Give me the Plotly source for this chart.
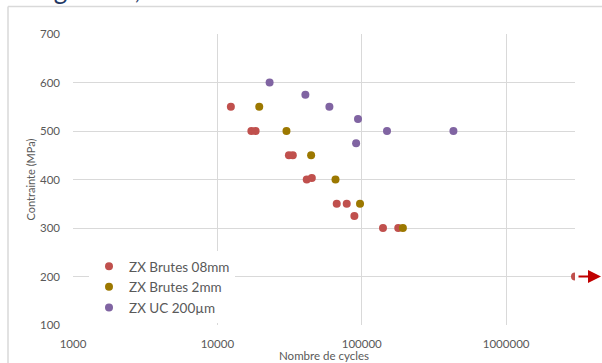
import plotly.graph_objects as go

# Data
red_name = "ZX Brutes 08mm"
red_cycles = [12400, 17200, 18400, 31300, 33300, 41600, 45100, 67100, 78700, 88900, 140300, 179000, 3000000]
red_stress = [550, 500, 500, 450, 450, 400, 403, 350, 350, 325, 300, 300, 200]

gold_name = "ZX Brutes 2mm"
gold_cycles = [19500, 30100, 44600, 65800, 97300, 192700]
gold_stress = [550, 500, 450, 400, 350, 300]

purple_name = "ZX UC 200µm"
purple_cycles = [23000, 40700, 59700, 94200, 91400, 149600, 431500]
purple_stress = [600, 575, 550, 525, 475, 500, 500]

x_ticks = [1000, 10000, 100000, 1000000]
x_max = 3000000
y_range = [100, 700]

W, H = 602, 363
L, R, T, B = 73, 27, 34, 38
pw, ph = W - L - R, H - T - B

FONT = "Lato"
GRAY = "#595959"
GRID = "#D9D9D9"

fig = go.Figure()
for name, xs, ys, col in [
    (red_name, red_cycles, red_stress, "#C0504D"),
    (gold_name, gold_cycles, gold_stress, "#9C7800"),
    (purple_name, purple_cycles, purple_stress, "#8064A2"),
]:
    fig.add_trace(go.Scatter(x=xs, y=ys, mode="markers", name=name,
                             marker=dict(color=col, size=8, line=dict(width=0))))

def px_x(p):
    return (p - L) / pw

def px_y(p):
    return (H - B - p) / ph

fig.update_layout(
    width=W, height=H,
    margin=dict(l=L, r=R, t=T, b=B, autoexpand=False),
    paper_bgcolor="white", plot_bgcolor="white",
    font=dict(family=FONT, color=GRAY, size=11.5),
    xaxis=dict(type="log", range=[3, 6.4771], tickvals=x_ticks,
               ticktext=[str(v) for v in x_ticks],
               showgrid=True, gridcolor=GRID, gridwidth=1,
               zeroline=False, showline=False, ticks="",
               ticklabelstandoff=10,
               tickfont=dict(size=11.5, color=GRAY),
               title=dict(text="Nombre de cycles", font=dict(size=11.5, color=GRAY), standoff=0)),
    yaxis=dict(range=y_range, dtick=100, showgrid=True, gridcolor=GRID, gridwidth=1,
               zeroline=False, showline=False, ticks="",
               ticklabelstandoff=12,
               tickfont=dict(size=11.5, color=GRAY),
               title=dict(text="Contrainte (MPa)", font=dict(size=11, color=GRAY), standoff=2)),
    legend=dict(x=px_x(89), y=px_y(251), xanchor="left", yanchor="top",
                bgcolor="white", borderwidth=0,
                font=dict(size=13.5, color=GRAY, family=FONT),
                tracegroupgap=0, itemwidth=30),
    showlegend=True,
)

# outer chart frame
fig.add_shape(type="line", xref="paper", yref="paper",
              x0=px_x(8), x1=px_x(W + 5), y0=px_y(6.5), y1=px_y(6.5),
              line=dict(color=GRID, width=1.5))
fig.add_shape(type="line", xref="paper", yref="paper",
              x0=px_x(8), x1=px_x(8), y0=px_y(6.5), y1=px_y(H + 5),
              line=dict(color=GRID, width=1.5))

# cut-off slide title
fig.add_annotation(text="Fatigue ZX,", xref="paper", yref="paper",
                   x=px_x(10), y=px_y(-11), xanchor="left", yanchor="middle",
                   showarrow=False, font=dict(size=26, color="#1F3864", family=FONT))

# run-out arrow
fig.add_annotation(x=px_x(601), y=200, xref="paper", yref="y",
                   ax=-24, ay=0, axref="pixel", ayref="pixel",
                   showarrow=True, arrowhead=2, arrowsize=1.3, arrowwidth=2,
                   arrowcolor="#C00000", text="")

fig.write_html("out.html", config={"displayModeBar": False},
               post_script="document.body.style.margin='0';")
